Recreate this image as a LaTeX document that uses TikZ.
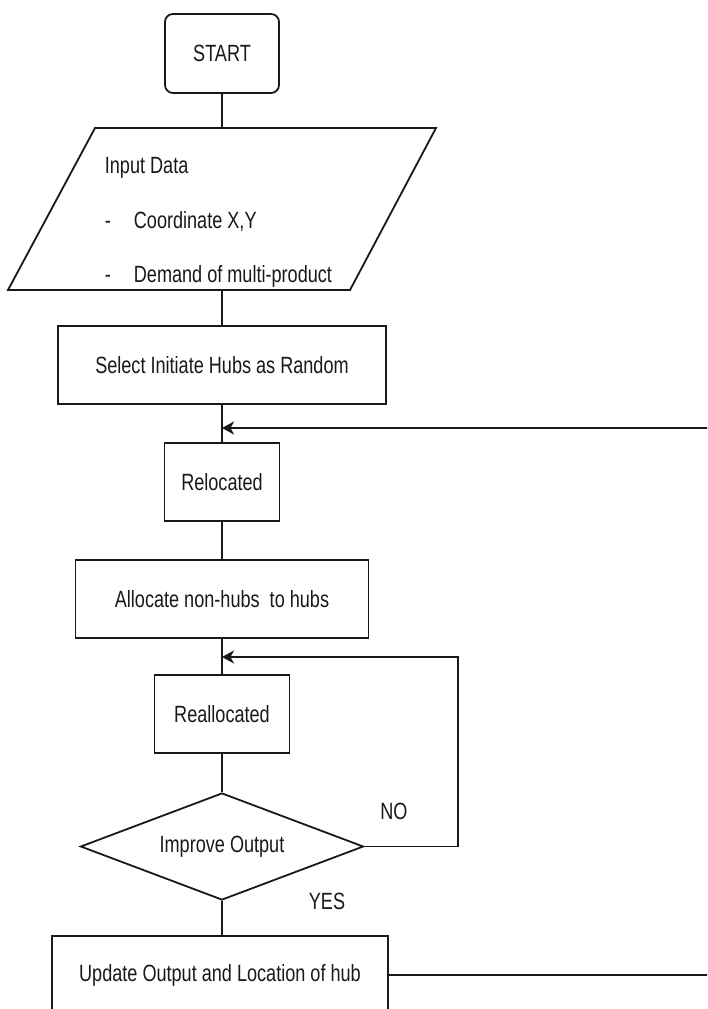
\documentclass[tikz,border=0pt]{standalone}
\usepackage{fontspec}
\setmainfont{Liberation Sans}[FakeStretch=0.77]
\usepackage{tikz}
\usetikzlibrary{arrows.meta,shapes.geometric,positioning}
\definecolor{flowInk}{RGB}{25,25,25}

\begin{document}
\begin{tikzpicture}[x=1pt,y=-1pt,color=flowInk,line width=1.8pt,
    font=\fontsize{23.5}{28}\selectfont,
    procbox/.style={draw,rectangle,inner sep=0pt,minimum height=78pt},
    termbox/.style={draw,rectangle,rounded corners=8pt,inner sep=0pt,
                    minimum width=114pt,minimum height=79pt},
    decbox/.style={draw,diamond,inner sep=0pt,aspect=2.6,
                   minimum width=283pt,minimum height=107pt},
    intext/.style={anchor=base west,inner sep=0pt},
    backarrow/.style={-{Stealth[length=12pt,width=13pt,inset=3.5pt]}}]
        \useasboundingbox (0,0) rectangle (707,1009);
        \clip (0,0) rectangle (707,1009);

        % Inicio
        \node[termbox] (start) at (222,53.5) {START};

        % Dados de entrada (paralelogramo)
        \draw (95,128) -- (436,128) -- (350,290) -- (8,290) -- cycle;
        \coordinate (inTop) at (222,128);
        \coordinate (inBot) at (222,290);
        \node[intext] (inHead) at (104,173) {Input Data};
        \node[intext] (inXY)   at (104,228) {\makebox[29pt][l]{-}Coordinate X,Y};
        \node[intext] (inDem)  at (104,282) {\makebox[29pt][l]{-}Demand of multi-product};

        % Etapas do processo
        \node[procbox,minimum width=328pt] (select)  at (222,365) {Select Initiate Hubs as Random};
        \node[procbox,minimum width=115pt] (reloc)   at (222,482) {Relocated};
        \node[procbox,minimum width=293pt] (alloc)   at (222,599) {Allocate non-hubs\ \ to hubs};
        \node[procbox,minimum width=135pt] (realloc) at (222,714) {Reallocated};
        \node[decbox] (decide) at (222,846.5) {\raisebox{-3pt}{Improve Output}};
        \node[procbox,minimum width=336pt] (update)  at (220,975) {Update Output and Location of hub};

        % Rotulos da decisao
        \node (noLbl)  at (394,811) {NO};
        \node (yesLbl) at (327,901) {YES};

        % Pontos de juncao dos lacos
        \coordinate (j1) at (222,428);
        \coordinate (j2) at (222,657);
        \coordinate (noTurn)   at (458,657);
        \coordinate (backTurn) at (740,428);

        % Fluxo principal
        \draw (start.south) -- (inTop);
        \draw (inBot) -- (select.north);
        \draw (select) -- (reloc);
        \draw (reloc) -- (alloc);
        \draw (alloc) -- (realloc);
        \draw (realloc) -- (decide);
        \draw (decide) -- (update.north -| decide);

        % Lacos de retorno
        \draw[backarrow] (decide.east) -| (noTurn) -- (j2);
        \draw[backarrow] (update.east) -| (backTurn) -- (j1);
      \end{tikzpicture}
\end{document}
